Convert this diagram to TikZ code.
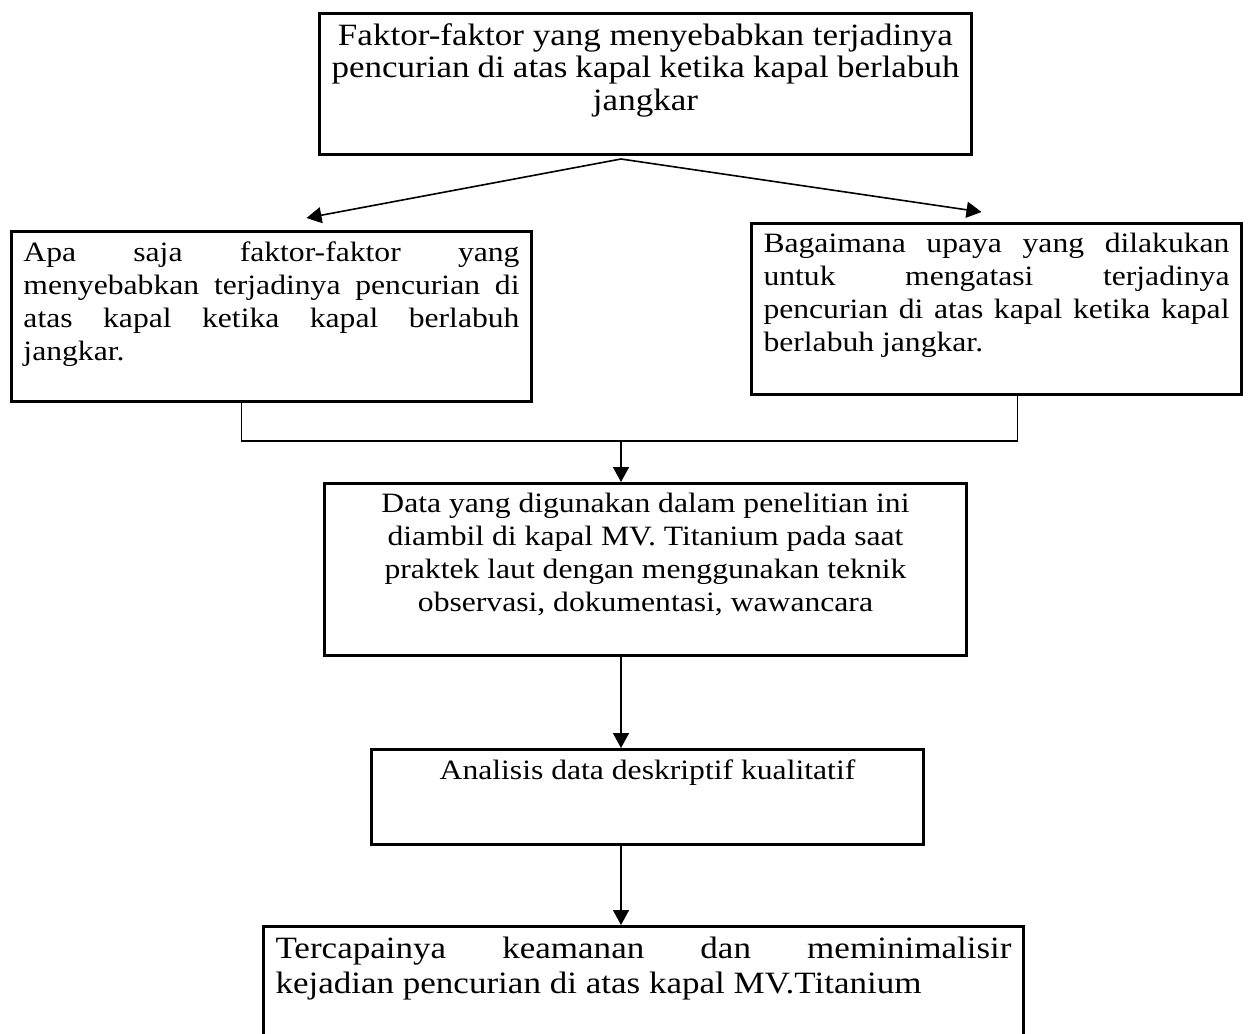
\documentclass[tikz,border=0pt]{standalone}
\usepackage{fontspec}
\setmainfont{Liberation Serif}[FakeStretch=1.13]
\usepackage{tikz}
\usetikzlibrary{arrows.meta, positioning, calc}
\newcommand{\isikotak}[3]{\parbox[t][#2][t]{#1}{\hbadness=10000\hyphenpenalty=10000\exhyphenpenalty=10000\frenchspacing #3}}

\begin{document}
\begin{tikzpicture}[x=0.5pt, y=-0.5pt,
    kotak/.style={draw, line width=1.5pt, anchor=north west, inner xsep=6pt, inner ysep=5pt,
        font=\fontsize{14}{16.5}\selectfont},
    besar/.style={font=\fontsize{15.5}{16.25}\selectfont},
    panah/.style={line width=0.8pt, -{Triangle[length=7.5pt, width=8pt]}},
    garis/.style={line width=0.8pt}]
        \useasboundingbox (0,0) rectangle (1249,1034);
        % kotak-kotak
        \node[kotak, besar] (atas) at (318,12) {\isikotak{314pt}{60.5pt}{\centering
            Faktor-faktor yang menyebabkan terjadinya\\ pencurian di atas kapal ketika kapal berlabuh\\ jangkar}};
        \node[kotak] (kiri) at (10,230) {\isikotak{248pt}{75pt}{Apa saja faktor-faktor yang\linebreak
            menyebabkan terjadinya pencurian di\linebreak atas kapal ketika kapal berlabuh\linebreak jangkar.}};
        \node[kotak] (kanan) at (750,222) {\isikotak{233pt}{75.5pt}{Bagaimana upaya yang dilakukan\linebreak
            untuk mengatasi terjadinya\linebreak pencurian di atas kapal ketika kapal\linebreak berlabuh jangkar.}};
        \node[kotak] (tengah) at (323,482) {\isikotak{309pt}{76pt}{\centering
            Data yang digunakan dalam penelitian ini\\ diambil di kapal MV. Titanium pada saat\\
            praktek laut dengan menggunakan teknik\\ observasi, dokumentasi, wawancara}};
        \node[kotak] (analisis) at (370,748) {\isikotak{264pt}{37.5pt}{\centering
            Analisis data deskriptif kualitatif}};
        \node[kotak, font=\fontsize{15.5}{17.5}\selectfont] (hasil) at (262,925) {\isikotak{368pt}{57.5pt}{Tercapainya keamanan dan meminimalisir\linebreak
            kejadian pencurian di atas kapal MV.Titanium}};
        % percabangan
        \coordinate (sumbu) at (621,0);
        \coordinate (cabang) at (621,159);
        \coordinate (gabung) at (621,441);
        \draw[panah] (cabang) -- ([shift={(35,-12)}]kiri.north);
        \draw[panah] (cabang) -- ([shift={(-15,-10)}]kanan.north);
        \draw[garis] ([shift={(-30,0)}]kiri.south) |- (gabung) -| ([shift={(21,0)}]kanan.south);
        \draw[panah] (gabung) -- (tengah.north -| sumbu);
        \foreach \dari/\ke in {tengah/analisis, analisis/hasil}
            \draw[panah] (\dari.south -| sumbu) -- (\ke.north -| sumbu);
\end{tikzpicture}
\end{document}
